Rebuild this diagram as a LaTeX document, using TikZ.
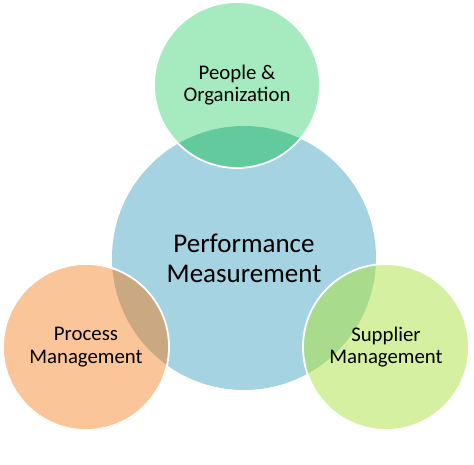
\documentclass[tikz,border=0pt]{standalone}
\usepackage{fontspec}
\setmainfont{Carlito}
\usepackage{tikz}
\usetikzlibrary{positioning}
\definecolor{hubblue}{HTML}{A6D3E1}
\definecolor{peoplegreen}{HTML}{A6EBC0}
\definecolor{peopleover}{HTML}{62CA9C}
\definecolor{processorange}{HTML}{FBC59A}
\definecolor{processover}{HTML}{C9A882}
\definecolor{supplierlime}{HTML}{D5F0A0}
\definecolor{supplierover}{HTML}{A8DC8C}

\begin{document}
\begin{tikzpicture}[
    x=1pt, y=1pt,
    hub/.style={circle, fill=hubblue, minimum size=264pt, inner sep=0pt, align=center,
        font=\fontsize{27}{30}\selectfont},
    part/.style={circle, minimum size=166pt, inner sep=0pt, align=center,
        font=\fontsize{20.8}{22.5}\selectfont},
    ring/.style={draw=white, line width=1.8pt}
]
    \useasboundingbox (0,0) rectangle (474,464);

    % Central circle
    \node[hub] (perf) at (244,206) {Performance\\Measurement};

    % Outer circles
    \node[part, fill=peoplegreen] (people) at (237,379) {};
    \node[part, fill=processorange] (process) at (86,117) {};
    \node[part, fill=supplierlime] (supplier) at (386,117) {};

    % Overlaps with the central circle
    \foreach \n/\c in {people/peopleover, process/processover, supplier/supplierover} {
        \begin{scope}
            \clip (perf.center) circle (132);
            \fill[\c] (\n.center) circle (83);
        \end{scope}
    }

    % White rims
    \foreach \n in {people, process, supplier} {
        \draw[ring] (\n.center) circle (83);
    }

    % Labels
    \node[part] at (people) {People \&\\Organization};
    \node[part] at (process) {Process\\Management};
    \node[part] at (supplier) {Supplier\\Management};

\end{tikzpicture}
\end{document}
